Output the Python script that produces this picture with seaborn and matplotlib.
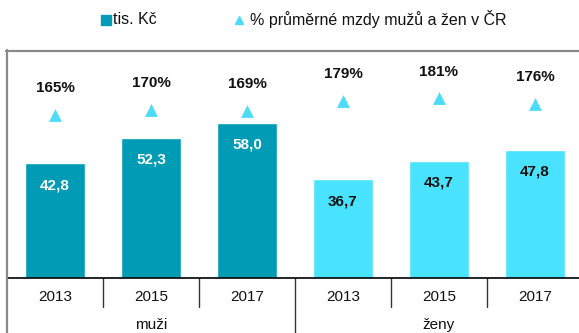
import matplotlib
matplotlib.use("Agg")
import matplotlib.pyplot as plt
from matplotlib.lines import Line2D
from matplotlib.transforms import blended_transform_factory
import pandas as pd
import seaborn as sns

# Data
groups = ["muži", "muži", "muži", "ženy", "ženy", "ženy"]
years = ["2013", "2015", "2017", "2013", "2015", "2017"]
wages = [42.8, 52.3, 58.0, 36.7, 43.7, 47.8]
wage_labels = ["42,8", "52,3", "58,0", "36,7", "43,7", "47,8"]
pct = [165, 170, 169, 179, 181, 176]
group_names = ["muži", "ženy"]
legend_labels = ["tis. Kč", "% průměrné mzdy mužů a žen v ČR"]

DARK = "#009BB5"
LIGHT = "#4AE3FF"
TRI = "#4DDCF8"

sns.set_theme(style="white")
plt.rcParams["font.family"] = ["Liberation Sans", "DejaVu Sans"]

df = pd.DataFrame({"group": groups, "year": years, "wage": wages, "pct": pct})
df["cat"] = df["group"] + " " + df["year"]
order = list(df["cat"])

W, H = 579, 333
fig = plt.figure(figsize=(W / 100, H / 100), dpi=100)
# axes extends slightly past the right edge of the canvas
ax = fig.add_axes([7 / W, 55.5 / H, 576 / W, 227 / H])

sns.barplot(data=df, x="cat", y="wage", hue="group", order=order,
            palette={"muži": DARK, "ženy": LIGHT}, dodge=False, width=0.62,
            saturation=1, errorbar=None, legend=False, ax=ax)
ax.set_xlim(-0.5, 5.5)
ax.set_ylim(0, 85)
ax.set_xlabel("")
ax.set_ylabel("")
ax.set_yticks([])
ax.set_xticks([])
for side in ["top", "right", "left"]:
    ax.spines[side].set_visible(False)
ax.spines["bottom"].set_color("black")
ax.spines["bottom"].set_linewidth(1.2)

# wage labels inside the bars
for i, (w, lbl, g) in enumerate(zip(wages, wage_labels, groups)):
    ax.annotate(lbl, (i, w), xytext=(0, -15.8), textcoords="offset points",
                ha="center", va="center", fontsize=11, fontweight="bold",
                color="white" if g == "muži" else "#111111")

# secondary axis with the percentage markers
ax2 = ax.twinx()
sns.scatterplot(data=df, x="cat", y="pct", marker="^", s=85, color=TRI,
                linewidth=0, legend=False, ax=ax2)
ax2.set_xlim(-0.5, 5.5)
ax2.set_ylim(7.2, 227.6)
ax2.set_axis_off()
for i, p in enumerate(pct):
    ax2.annotate(f"{p}%", (i, p), xytext=(0, 19.4), textcoords="offset points",
                 ha="center", va="center", fontsize=11, fontweight="bold",
                 color="#111111")

# category axis: years, separators and group names
trans = blended_transform_factory(ax.transData, ax.transAxes)
px = 1 / 227
for i, y in enumerate(years):
    ax.annotate(y, (i, 0), xycoords=trans, xytext=(0, -13.7),
                textcoords="offset points", ha="center", va="center",
                fontsize=11, color="#111111")
for b in [0.5, 1.5, 3.5, 4.5]:
    ax.plot([b, b], [0, -29.5 * px], transform=trans, color="#333333",
            lw=1, clip_on=False)
ax.plot([2.5, 2.5], [0, -60 * px], transform=trans, color="#333333",
        lw=1, clip_on=False)
for gi, name in enumerate(group_names):
    ax.annotate(name, (1 + 3 * gi, 0), xycoords=trans, xytext=(0, -34.5),
                textcoords="offset points", ha="center", va="center",
                fontsize=11, color="#111111")

# gray frame along the top and left
fig.add_artist(Line2D([6 / W, 1], [(H - 50.5) / H] * 2, color="#8a8a8a",
                      lw=1.6, transform=fig.transFigure))
fig.add_artist(Line2D([6.5 / W] * 2, [0, (H - 50) / H], color="#8a8a8a",
                      lw=1.6, transform=fig.transFigure))

# legend
ly = (H - 19.5) / H
fig.add_artist(Line2D([105.5 / W], [ly], marker="s", markersize=6.5,
                      color=DARK, linestyle="none", transform=fig.transFigure))
fig.text(113 / W, ly, legend_labels[0], ha="left", va="center",
         fontsize=11.5, color="#111111")
fig.add_artist(Line2D([239 / W], [ly], marker="^", markersize=6,
                      color=TRI, linestyle="none", transform=fig.transFigure))
fig.text(250 / W, ly, legend_labels[1], ha="left", va="center",
         fontsize=11.5, color="#111111")

fig.savefig("out.png", dpi=100)
